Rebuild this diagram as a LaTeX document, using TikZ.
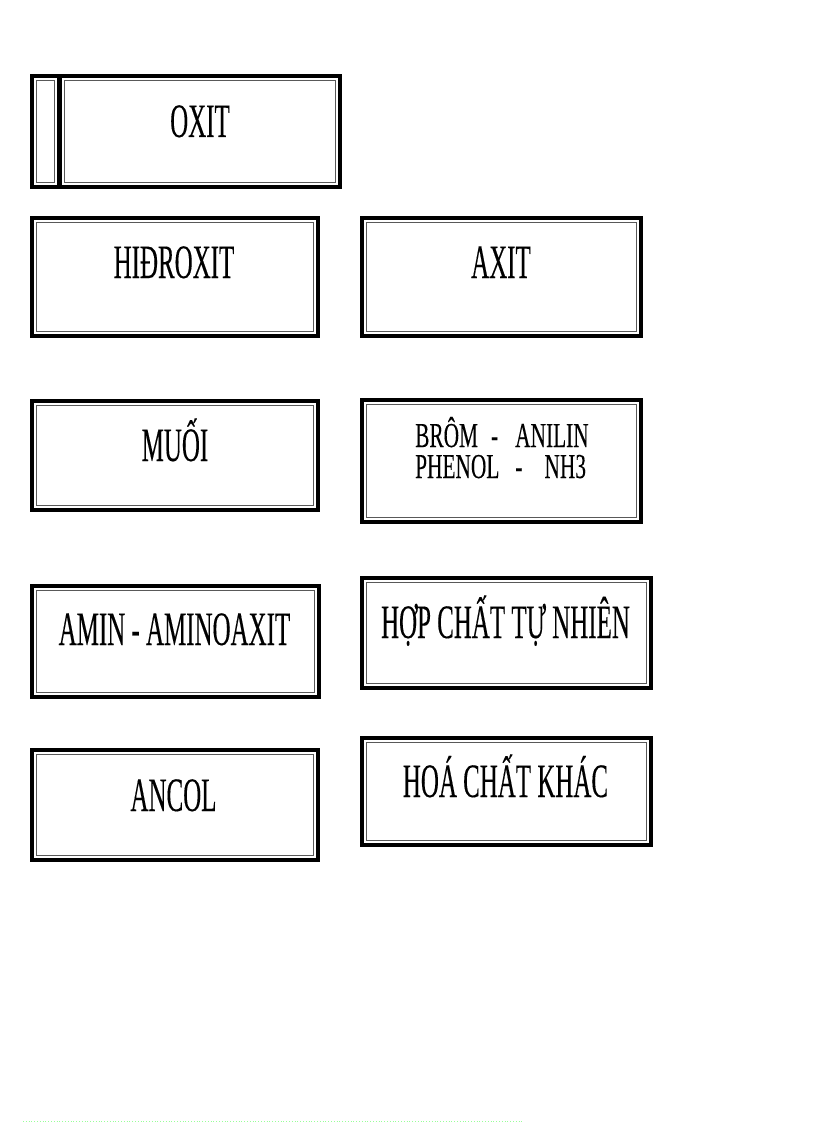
\documentclass[tikz,border=0pt]{standalone}
\usepackage{fontspec}
\setmainfont{Liberation Serif}
\newfontfamily\cond[FakeStretch=0.52,FakeBold=0.2]{Liberation Serif}
\newfontfamily\condsm[FakeStretch=0.61,FakeBold=0.15]{Liberation Serif}
\begin{document}
\begin{tikzpicture}[x=1pt,y=-1pt,
  box/.style={draw=black, line width=4pt, fill=white, rectangle, inner sep=0pt,
    path picture={\draw[black!65, line width=1.3pt]
      ([xshift=4.5pt,yshift=-4.5pt]path picture bounding box.north west) rectangle
      ([xshift=-4.5pt,yshift=4.5pt]path picture bounding box.south east);}},
  lbl/.style={anchor=base, inner sep=0pt, font=\cond\fontsize{48}{52}\selectfont},
  small/.style={anchor=base west, inner sep=0pt, align=left, font=\condsm\fontsize{35}{31}\selectfont}]
\useasboundingbox (0,0) rectangle (816,1123);
\fill[white] (0,0) rectangle (816,1123);
% boxes
\node[box, minimum width=27pt, minimum height=111pt] (oxitL) at (45.5,131.5) {};
\node[box, minimum width=280pt, minimum height=111pt] (oxit) at (200,131.5) {};
\node[box, minimum width=286pt, minimum height=118pt] (hidroxit) at (175,277) {};
\node[box, minimum width=279pt, minimum height=118pt] (axit) at (501.5,277) {};
\node[box, minimum width=286pt, minimum height=109pt] (muoi) at (175,455.5) {};
\node[box, minimum width=279pt, minimum height=122pt] (brom) at (501.5,461) {};
\node[box, minimum width=287pt, minimum height=111pt] (amin) at (175.5,641.5) {};
\node[box, minimum width=289pt, minimum height=110pt] (hop) at (506.5,633) {};
\node[box, minimum width=286pt, minimum height=110pt] (ancol) at (175,805) {};
\node[box, minimum width=289pt, minimum height=107pt] (hoa) at (506.5,791.5) {};
% labels
\node[lbl] (t-oxit) at (200,137) {OXIT};
\node[lbl] (t-hidroxit) at (174,278) {HIĐROXIT};
\node[lbl] (t-axit) at (501,278) {AXIT};
\node[lbl] (t-muoi) at (175,461) {MUỐI};
\node[small] (t-brom) at (415,478) {BRÔM\hspace{13pt}-\hspace{17pt}ANILIN\\PHENOL\hspace{16pt}-\hspace{22pt}NH3};
\node[lbl] (t-amin) at (174.5,645) {AMIN - AMINOAXIT};
\node[lbl] (t-hop) at (505.5,638) {HỢP CHẤT TỰ NHIÊN};
\node[lbl] (t-ancol) at (173.5,811) {ANCOL};
\node[lbl] (t-hoa) at (505.5,797) {HOÁ CHẤT KHÁC};
% faint dotted line at bottom
\coordinate (dl) at (23,1121.5);
\coordinate (dr) at (523,1121.5);
\draw[green!40, line width=0.8pt, dotted] (dl) -- (dr);
\end{tikzpicture}
\end{document}
